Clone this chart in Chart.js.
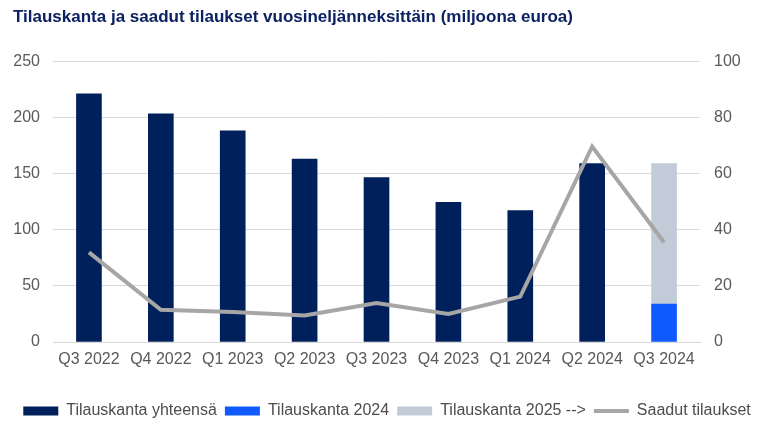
<!DOCTYPE html>
<html>
<head>
<meta charset="utf-8">
<script src="https://cdn.jsdelivr.net/npm/chart.js@4"></script>
<style>
  html, body { margin: 0; padding: 0; background: #fff; }
  #wrap { width: 775px; height: 440px; }
</style>
</head>
<body>
<div id="wrap"><canvas id="chart" width="775" height="440"></canvas></div>
<script>
// tilauskanta ja saadut tilaukset (milj. euroa)
const quarters = ['Q3 2022','Q4 2022','Q1 2023','Q2 2023','Q3 2023','Q4 2023','Q1 2024','Q2 2024','Q3 2024'];
const tilauskantaYht = [221.5, 203.7, 188.5, 163.3, 146.8, 124.6, 117.4, 159.3, null];
const tilauskanta2024 = [null, null, null, null, null, null, null, null, 33.8];
const tilauskanta2025 = [null, null, null, null, null, null, null, null, 125.4];
const saadutTilaukset = [32.0, 11.5, 10.7, 9.5, 13.9, 10.0, 16.2, 69.8, 35.6];
const leftTicks = [0, 50, 100, 150, 200, 250];
const rightTicks = [0, 20, 40, 60, 80, 100];

const FONT = '"Liberation Sans", Arial, sans-serif';
const gridCol = '#d9d9d9';
const tickCol = '#595959';

new Chart(document.getElementById('chart').getContext('2d'), {
  type: 'bar',
  data: {
    labels: quarters,
    datasets: [
      { label: 'Tilauskanta yhteensä', data: tilauskantaYht, backgroundColor: '#00205c',
        yAxisID: 'y', stack: 's', order: 1, barThickness: 25 },
      { label: 'Tilauskanta 2024', data: tilauskanta2024, backgroundColor: '#1059ff',
        yAxisID: 'y', stack: 's', order: 1, barThickness: 25 },
      { label: 'Tilauskanta 2025 -->', data: tilauskanta2025, backgroundColor: '#c2ccd8',
        yAxisID: 'y', stack: 's', order: 1, barThickness: 25 },
      { type: 'line', label: 'Saadut tilaukset', data: saadutTilaukset, borderColor: '#a6a6a6',
        backgroundColor: '#a6a6a6', borderWidth: 4, pointRadius: 0, tension: 0,
        yAxisID: 'y1', order: 0, pointStyle: 'line' }
    ]
  },
  options: {
    responsive: false,
    animation: false,
    layout: { padding: { left: 13, right: 14, top: 0, bottom: 11 } },
    plugins: {
      title: {
        display: true,
        text: 'Tilauskanta ja saadut tilaukset vuosineljänneksittäin (miljoona euroa)',
        align: 'start',
        color: '#0c2262',
        font: { family: FONT, size: 17, weight: 'bold' },
        padding: { top: 7, bottom: 34.5 }
      },
      legend: {
        position: 'bottom',
        labels: {
          color: '#4d4d4d',
          font: { family: FONT, size: 16 },
          usePointStyle: true,
          pointStyleWidth: 35,
          boxHeight: 9,
          padding: 8,
          sort: (a, b) => a.datasetIndex - b.datasetIndex,
          generateLabels(chart) {
            const items = Chart.defaults.plugins.legend.labels.generateLabels(chart);
            items.forEach(it => {
              if (it.datasetIndex === 3) {
                it.pointStyle = 'line';
                it.lineWidth = 4;
                it.strokeStyle = '#a6a6a6';
              } else {
                it.pointStyle = 'rect';
                it.lineWidth = 0;
              }
            });
            return items;
          }
        }
      },
      tooltip: { enabled: false }
    },
    scales: {
      x: {
        stacked: true,
        afterFit(axis) { axis.height = 53; },
        grid: { display: false, drawTicks: false },
        border: { color: gridCol },
        ticks: { color: tickCol, font: { family: FONT, size: 16 }, padding: 8, maxRotation: 0 }
      },
      y: {
        stacked: true,
        position: 'left',
        min: 0, max: 250,
        afterBuildTicks(axis) { axis.ticks = leftTicks.map(v => ({ value: v })); },
        afterFit(axis) { axis.width = 40; },
        grid: { color: gridCol, drawTicks: false },
        border: { display: false },
        ticks: { color: tickCol, font: { family: FONT, size: 16 }, padding: 13 }
      },
      y1: {
        position: 'right',
        min: 0, max: 100,
        afterBuildTicks(axis) { axis.ticks = rightTicks.map(v => ({ value: v })); },
        afterFit(axis) { axis.width = 61; },
        grid: { display: false, drawTicks: false },
        border: { display: false },
        ticks: { color: tickCol, font: { family: FONT, size: 16 }, padding: 14 }
      }
    }
  }
});
</script>
</body>
</html>
